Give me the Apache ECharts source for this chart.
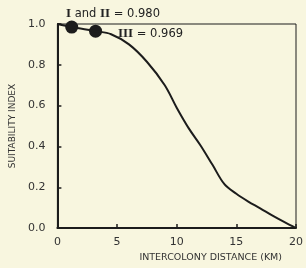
<!DOCTYPE html>
<html>
<head>
<meta charset="utf-8">
<script src="https://cdn.jsdelivr.net/npm/echarts@6/dist/echarts.min.js"></script>
<style>
  html, body { margin: 0; padding: 0; background: #f8f6df; }
  #chart { width: 306px; height: 268px; }
</style>
</head>
<body>
<div id="chart"></div>
<script>
// curve
const distance = [0, 1.2, 3.2, 4.5, 6, 7.5, 9, 10, 11, 12, 13, 14, 15, 16, 17, 18, 19, 20]
const suitability = [1.0, 0.985, 0.965, 0.95, 0.9, 0.815, 0.70, 0.59, 0.49, 0.405, 0.31, 0.215, 0.168, 0.13, 0.097, 0.062, 0.03, 0]

// highlighted points (labels use rich text for the roman numerals)
const pointNames = ['{r|I} and {r|II} = 0.980', '{r|III} = 0.969']
const pointX = [1.2, 3.2]
const pointY = [0.985, 0.965]

const xTicks = [0, 5, 10, 15, 20]

const ink = '#1c1c1c'
const font = 'DejaVu Sans, sans-serif'

const chart = echarts.init(document.getElementById('chart'))

chart.setOption({
  backgroundColor: '#f8f6df',
  animation: false,
  grid: {
    left: 56, right: 9, top: 24, bottom: 36,
    show: true, borderColor: ink, borderWidth: 1, backgroundColor: 'transparent'
  },
  xAxis: {
    type: 'value',
    min: xTicks[0], max: xTicks[xTicks.length - 1], interval: 5,
    axisLine: { lineStyle: { color: ink, width: 2 } },
    axisTick: { inside: true, length: 4, lineStyle: { color: ink, width: 1.5 } },
    axisLabel: { color: '#333', fontSize: 11, fontFamily: font, margin: 9 },
    splitLine: { show: false },
    name: 'INTERCOLONY DISTANCE (KM)',
    nameLocation: 'middle',
    nameGap: 22,
    nameTextStyle: { color: '#333', fontSize: 9.5, fontFamily: font, padding: [0, 0, 0, 68] }
  },
  yAxis: {
    type: 'value',
    min: 0, max: 1, interval: 0.2,
    axisLine: { lineStyle: { color: ink, width: 2 } },
    axisTick: { inside: true, length: 4, lineStyle: { color: ink, width: 1.5 } },
    axisLabel: { color: '#333', fontSize: 11, fontFamily: font, margin: 12, formatter: v => v.toFixed(1) },
    splitLine: { show: false },
    name: 'SUITABILITY INDEX',
    nameLocation: 'middle',
    nameGap: 40,
    nameTextStyle: { color: '#333', fontSize: 9, fontFamily: font }
  },
  series: [
    {
      type: 'line',
      data: distance.map((d, i) => [d, suitability[i]]),
      smooth: 0.35,
      showSymbol: false,
      lineStyle: { color: ink, width: 2 }
    },
    {
      type: 'scatter',
      data: pointX.map((d, i) => ({ value: [d, pointY[i]], name: pointNames[i] })),
      symbolSize: 13,
      itemStyle: { color: ink, opacity: 1 },
      label: {
        show: true,
        formatter: '{b}',
        color: '#222',
        fontSize: 11.5,
        fontFamily: font,
        position: 'right',
        rich: {
          r: { fontFamily: 'Liberation Serif, serif', fontWeight: 'bold', fontSize: 13, color: '#222' }
        }
      },
      labelLayout: p => p.dataIndex === 0
        ? { x: 66, y: 14, align: 'left', verticalAlign: 'middle' }
        : { x: 118, y: 34, align: 'left', verticalAlign: 'middle' }
    }
  ]
})
</script>
</body>
</html>
